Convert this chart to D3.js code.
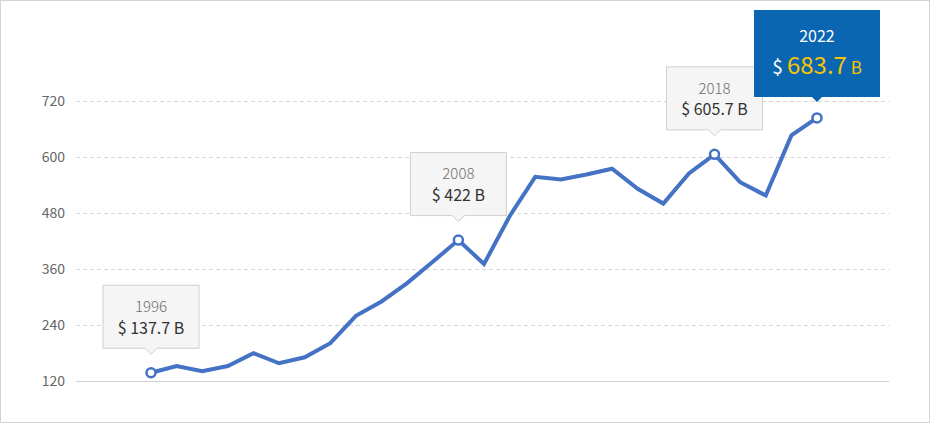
<!DOCTYPE html>
<html>
<head>
<meta charset="utf-8">
<script src="https://cdn.jsdelivr.net/npm/d3@7"></script>
<style>
  html, body { margin: 0; padding: 0; background: #fff; }
  svg { display: block; font-family: "Noto Sans CJK KR", "Noto Sans", sans-serif; }
</style>
</head>
<body>
<div id="chart"></div>
<script>
// data
const years = [1996, 1997, 1998, 1999, 2000, 2001, 2002, 2003, 2004, 2005, 2006, 2007, 2008,
  2009, 2010, 2011, 2012, 2013, 2014, 2015, 2016, 2017, 2018, 2019, 2020, 2021, 2022];
const values = [137.7, 152.2, 140.8, 152.2, 179.5, 158.0, 170.9, 201.0, 259.6, 290.4, 329.9, 375.6, 422.0,
  370.7, 473.0, 557.6, 551.8, 562.5, 574.8, 531.8, 500.2, 564.7, 605.7, 546.0, 517.4, 646.3, 683.7];
const yTicks = [120, 240, 360, 480, 600, 720];
const labelYears = [1996, 2008, 2018];
const highlightYear = 2022;

const data = years.map((y, i) => ({year: y, value: values[i]}));

// size
const width = 930;
const height = 423;

const svg = d3.select("#chart")
    .append('svg')
    .attr('width', width)
    .attr('height', height);

// outer border
svg.append('rect')
    .attr('x', 0.5)
    .attr('y', 0.5)
    .attr('width', width - 1)
    .attr('height', height - 1)
    .attr('fill', '#fff')
    .attr('stroke', '#d4d4d4');

// scales
const xScale = d3.scaleLinear()
    .domain(d3.extent(years))
    .range([151, 817]);

const yScale = d3.scaleLinear()
    .domain([120, 720])
    .range([381, 101]);

const gridLeft = 76;
const gridRight = 889;

// y axis with grid lines
const yAxis = d3.axisLeft(yScale)
    .tickValues(yTicks)
    .tickSize(-(gridRight - gridLeft))
    .tickPadding(11);

svg.append('g')
    .attr('class', 'axis y-axis')
    .attr('transform', 'translate(' + gridLeft + ',0)')
    .call(yAxis)
    .call(g => g.select('.domain').remove())
    .call(g => g.selectAll('.tick line')
        .attr('stroke', (d) => d === 120 ? '#d0d0d0' : '#d6d6d6')
        .attr('stroke-width', (d) => d === 120 ? 1.2 : 1)
        .attr('stroke-dasharray', (d) => d === 120 ? null : '4,3'))
    .call(g => g.selectAll('.tick text')
        .attr('fill', '#666')
        .attr('font-size', 14)
        .attr('font-family', '"Noto Sans CJK KR", "Noto Sans", sans-serif'));

// line
const line = d3.line()
    .x((d) => xScale(d.year))
    .y((d) => yScale(d.value));

svg.append('path')
    .datum(data)
    .attr('fill', 'none')
    .attr('stroke', '#4472c4')
    .attr('stroke-width', 4)
    .attr('stroke-linejoin', 'miter')
    .attr('d', line);

// marked points
const marked = data.filter((d) => labelYears.includes(d.year) || d.year === highlightYear);

svg.selectAll('circle.mark')
    .data(marked)
    .enter()
    .append('circle')
    .attr('class', 'mark')
    .attr('cx', (d) => xScale(d.year))
    .attr('cy', (d) => yScale(d.value))
    .attr('r', 4.5)
    .attr('fill', '#fff')
    .attr('stroke', '#4472c4')
    .attr('stroke-width', 2.5);

// gray callouts
const boxW = 97, boxH = 64, gap = 24;
const callout = svg.append('g')
    .selectAll('g')
    .data(data.filter((d) => labelYears.includes(d.year)))
    .enter()
    .append('g')
    .attr('transform', (d) => `translate(${xScale(d.year)},${yScale(d.value) - gap - boxH})`);

callout.append('path')
    .attr('d', `M${-boxW / 2 + 0.5},0.5 H${boxW / 2 - 0.5} V${boxH - 0.5} H6 L0,${boxH + 5.5} L-6,${boxH - 0.5} H${-boxW / 2 + 0.5} Z`)
    .attr('fill', '#f5f5f5')
    .attr('stroke', '#cfcfcf');

callout.append('text')
    .attr('text-anchor', 'middle')
    .attr('y', 22)
    .attr('dy', '0.35em')
    .attr('fill', '#6e6e6e')
    .attr('font-size', 15)
    .attr('font-weight', 300)
    .text((d) => d.year);

callout.append('text')
    .attr('text-anchor', 'middle')
    .attr('y', 43.5)
    .attr('dy', '0.35em')
    .attr('fill', '#333')
    .attr('font-size', 16)
    .text((d) => `$ ${d3.format('.4~f')(d.value)} B`);

// highlighted callout
const hi = data.find((d) => d.year === highlightYear);
const hiW = 126, hiH = 87, hiGap = 21;
const hg = svg.append('g')
    .attr('transform', `translate(${xScale(hi.year)},${yScale(hi.value) - hiGap - hiH})`);

hg.append('path')
    .attr('d', `M${-hiW / 2},0 H${hiW / 2} V${hiH} H5 L0,${hiH + 5} L-5,${hiH} H${-hiW / 2} Z`)
    .attr('fill', '#0b66b1');

hg.append('text')
    .attr('text-anchor', 'middle')
    .attr('y', 26)
    .attr('dy', '0.35em')
    .attr('fill', '#fff')
    .attr('font-size', 16)
    .text(hi.year);

const hv = hg.append('text')
    .attr('text-anchor', 'middle')
    .attr('y', 58)
    .attr('dy', '0.35em');

hv.append('tspan')
    .attr('fill', '#fff')
    .attr('font-size', 19)
    .text('$ ');

hv.append('tspan')
    .attr('fill', '#f8c400')
    .attr('font-size', 24)
    .text(d3.format('.1f')(hi.value));

hv.append('tspan')
    .attr('fill', '#f8c400')
    .attr('font-size', 17)
    .text(' B');
</script>
</body>
</html>
